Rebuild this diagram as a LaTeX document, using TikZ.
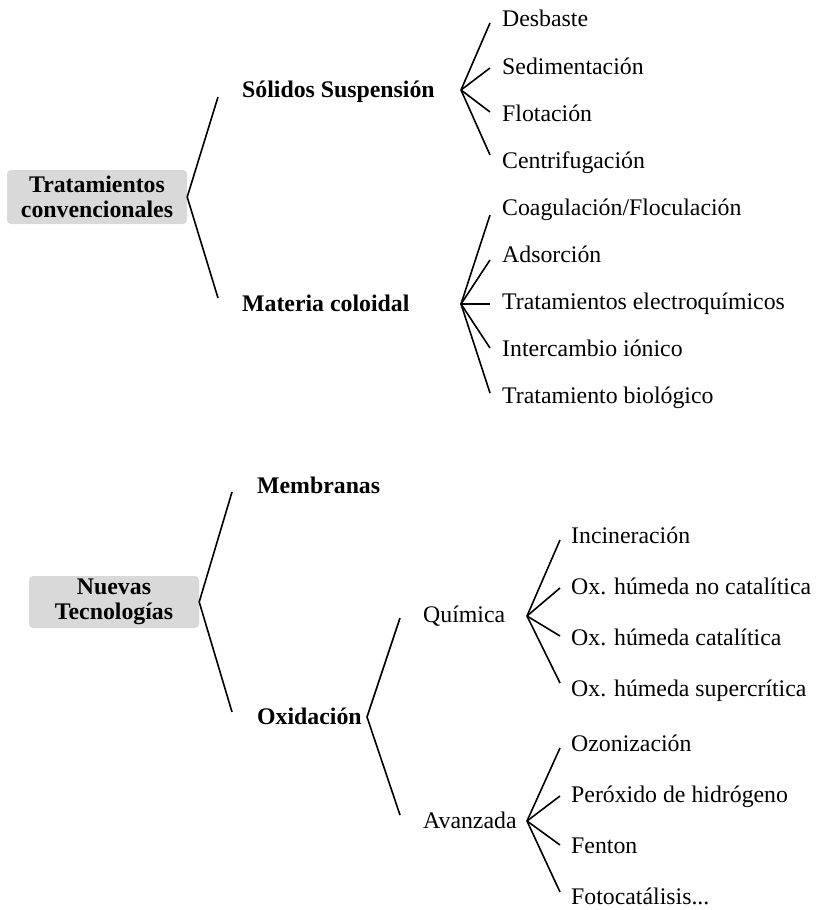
\documentclass[tikz,border=0pt]{standalone}
\usepackage{fontspec}
\setmainfont{Liberation Serif}
\definecolor{rootgray}{RGB}{217,217,217}
\begin{document}
\begin{tikzpicture}[x=1pt,y=-1pt,
  every node/.style={font=\fontsize{23.8}{25}\selectfont, inner sep=0pt},
  leaf/.style={anchor=base west},
  head/.style={anchor=base west, font=\fontsize{23.8}{25}\selectfont\bfseries},
  rootbox/.style={fill=rootgray, rounded corners=4pt, align=center,
    font=\fontsize{23.8}{24.5}\selectfont\bfseries},
  br/.style={line width=1.6pt, line join=miter}]
\useasboundingbox (0,0) rectangle (815,910);

% ---------- Tratamientos convencionales ----------
\node[rootbox, minimum width=180pt, minimum height=54pt] (tc) at (97,197) {Tratamientos\\convencionales};
\node[head] (ss) at (242,97) {Sólidos Suspensión};
\node[head] (mc) at (242,311) {Materia coloidal};
\coordinate (tc-a) at (218,97);
\coordinate (tc-b) at (218,298);
\draw[br] (tc-a) -- (tc.east) -- (tc-b);

% solids in suspension
\coordinate (ss-v) at (461,90);
\foreach \txt/\yb/\ye [count=\i] in {Desbaste/27/23, Sedimentación/74/68,
    Flotación/121/112, Centrifugación/168/155} {
  \node[leaf] (ss-\i) at (502,\yb) {\txt};
  \coordinate (ss-\i-end) at (490,\ye);
  \draw[br] (ss-v) -- (ss-\i-end);
}

% colloidal matter
\coordinate (mc-v) at (461,304);
\foreach \txt/\yb/\ye [count=\i] in {{Coagulación/Floculación}/215/215, Adsorción/262/260,
    Tratamientos electroquímicos/309/304, Intercambio iónico/356/348,
    Tratamiento biológico/403/393} {
  \node[leaf] (mc-\i) at (502,\yb) {\txt};
  \coordinate (mc-\i-end) at (490,\ye);
  \draw[br] (mc-v) -- (mc-\i-end);
}

% ---------- Nuevas Tecnologías ----------
\node[rootbox, minimum width=170pt, minimum height=52pt] (nt) at (114,602) {Nuevas\\Tecnologías};
\node[head] (mb) at (257,493) {Membranas};
\node[head] (ox) at (257,724) {Oxidación};
\coordinate (nt-a) at (232,492);
\coordinate (nt-b) at (232,712);
\draw[br] (nt-a) -- (nt.east) -- (nt-b);

% oxidation
\node[leaf] (qu) at (423,622) {Química};
\node[leaf] (av) at (423,828) {Avanzada};
\coordinate (ox-v) at (367,717);
\coordinate (ox-a) at (400,618);
\coordinate (ox-b) at (400,815);
\draw[br] (ox-a) -- (ox-v) -- (ox-b);

% chemical oxidation
\coordinate (qu-v) at (527,616);
\foreach \txt/\yb/\ye [count=\i] in {Incineración/543/540, Ox. húmeda no catalítica/594/588,
    Ox. húmeda catalítica/645/636, Ox. húmeda supercrítica/696/683} {
  \node[leaf] (qu-\i) at (571,\yb) {\txt};
  \coordinate (qu-\i-end) at (560,\ye);
  \draw[br] (qu-v) -- (qu-\i-end);
}

% advanced oxidation
\coordinate (av-v) at (527,821);
\foreach \txt/\yb/\ye [count=\i] in {Ozonización/751/748, Peróxido de hidrógeno/802/796,
    Fenton/853/845} {
  \node[leaf] (av-\i) at (571,\yb) {\txt};
  \coordinate (av-\i-end) at (560,\ye);
  \draw[br] (av-v) -- (av-\i-end);
}
\node[leaf] (av-4) at (571,904) {Fotocatálisis...};
\coordinate (av-4-end) at (560,892);
\draw[br] (av-v) -- (av-4-end);
\end{tikzpicture}
\end{document}
